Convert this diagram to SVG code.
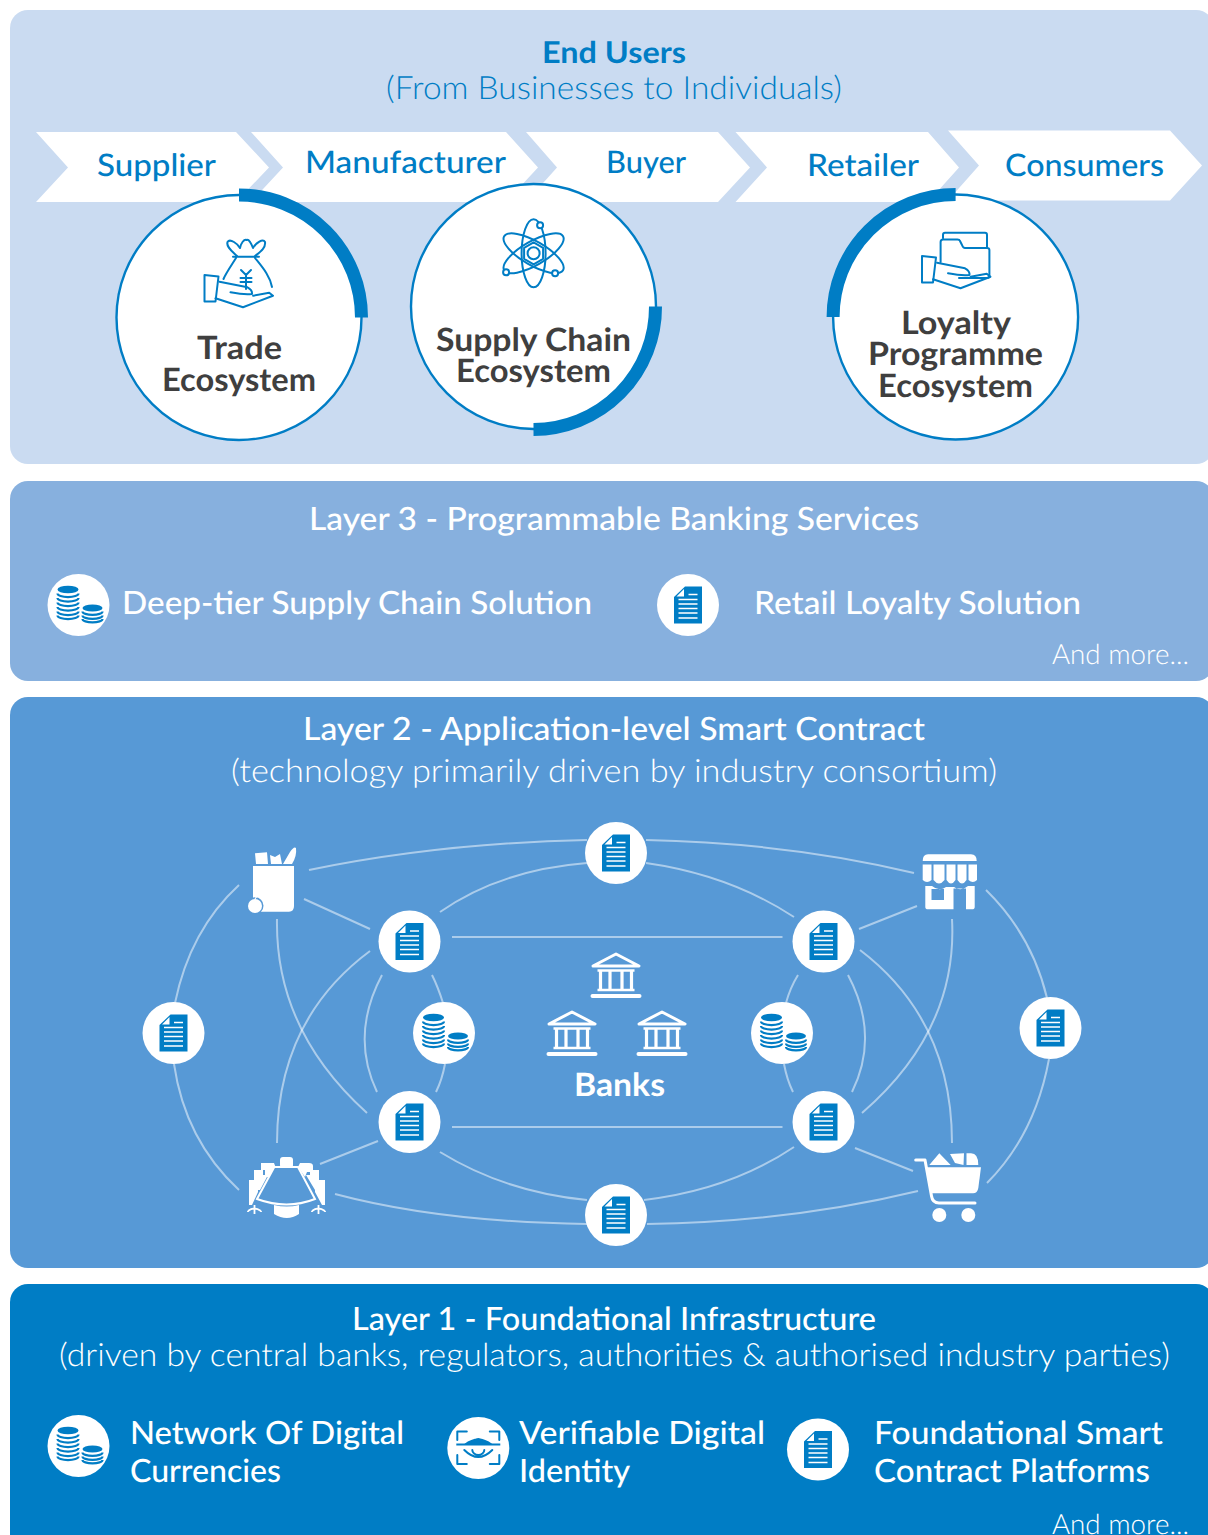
<svg xmlns="http://www.w3.org/2000/svg" xmlns:xlink="http://www.w3.org/1999/xlink" width="1208" height="1535" viewBox="0 0 1208 1535">
<style>
text{font-family:"Lato","Noto Sans","Liberation Sans",sans-serif;text-rendering:geometricPrecision}
.b{fill:#007dc5}.w{fill:#fff}
.chev{font-size:31px;font-weight:500;fill:#007dc5}
.eco{font-size:32px;font-weight:700;fill:#3f3f3f}
.t{font-size:32px;font-weight:500;fill:#fff}
.l{font-size:32px;font-weight:300;fill:#fff}
.more{font-size:28px;font-weight:300;fill:#fff}
.ring{fill:#fff;stroke:#007dc5;stroke-width:2.4}
.arc{fill:none;stroke:#007dc5;stroke-width:13}
.ico{fill:none;stroke:#007dc5;stroke-width:2;stroke-linejoin:round;stroke-linecap:round}
.con{fill:none;stroke:#fff;stroke-opacity:.5;stroke-width:2}
.wl{fill:none;stroke:#fff;stroke-width:2.4}
</style>
<defs>
<g id="doc">
<circle r="31" fill="#fff"/>
<path class="b" d="M-14-8-3-18.500H14V18.500H-14Z"/>
<path d="M-11.500-8.500-4-16V-8.500Z" fill="#fff"/>
<path d="M.5-10.500H9.500M-9.500-5.500H9.500M-9.500-1H9.500M-9.500 3.500H9.500M-9.500 8H9.500M-9.500 13H9.500" stroke="#fff" stroke-width="1.500" fill="none"/>
</g>
<g id="coins">
<circle r="31" fill="#fff"/>
<ellipse class="b" cx="-10.500" cy="-15.500" rx="10.500" ry="3.800"/>
<path d="M-21-11.500a10.500 3.600 0 0 0 21 0M-21-7a10.500 3.600 0 0 0 21 0M-21-2.500a10.500 3.600 0 0 0 21 0M-21 2a10.500 3.600 0 0 0 21 0M-21 6.500a10.500 3.600 0 0 0 21 0M-21 10.500a10.500 3.600 0 0 0 21 0" fill="none" stroke="#007dc5" stroke-width="2.200"/>
<ellipse class="b" cx="14" cy="3" rx="10" ry="3.600"/>
<path d="M4 6.500a10 3.400 0 0 0 20 0M4 10.500a10 3.400 0 0 0 20 0M4 14a10 3.400 0 0 0 20 0" fill="none" stroke="#007dc5" stroke-width="2.200"/>
</g>
<g id="bank">
<path d="M0 2 23 14H-23Z" fill="none" stroke="#fff" stroke-width="3" stroke-linejoin="round"/>
<path d="M-18.500 18.500H18.500M-18.500 38H18.500" stroke="#fff" stroke-width="2.500"/>
<path d="M-15.500 18V38M-6 18V38M6 18V38M15.500 18V38" stroke="#fff" stroke-width="3.200"/>
<rect x="-25.500" y="42" width="51" height="4" rx="2" fill="#fff"/>
</g>
<g id="hand" class="ico">
<path d="M0 0 14 1.500 11 26.500H0Z"/>
<path d="M15 6.700 43 12.300Q48 15 47.500 19Q40 20 26 17.300M48.600 20.700 64.700 17.700 68.500 20.700 38.500 32.300 11 23.300"/>
</g>
</defs>

<g id="panels">
<rect x="10" y="10" width="1204" height="454" rx="18" fill="#cadbf1"/>
<rect x="10" y="481" width="1204" height="200" rx="18" fill="#87b0de"/>
<rect x="10" y="697" width="1204" height="571" rx="18" fill="#5799d6"/>
<rect x="10" y="1284" width="1204" height="270" rx="18" fill="#007dc5"/>
</g>

<g id="chevrons" fill="#fff">
<path id="chev-supplier" d="M36 132H236L269 167.500 236 202H36L68 167.500Z"/>
<path id="chev-manufacturer" d="M251 132H506L538 167.500 506 202H251L283 167.500Z"/>
<path id="chev-buyer" d="M526 132H718L750 167.500 718 202H526L557 167.500Z"/>
<path id="chev-retailer" d="M735.500 132H928L959 167.500 928 202H735.500L767 167.500Z"/>
<path id="chev-consumers" d="M948 130.500H1170L1202 165.500 1170 200.500H948L979 165.500Z"/>
</g>

<g id="layer-titles">
<text x="542" y="63" font-size="30" font-weight="700" fill="#007dc5" textLength="144" lengthAdjust="spacingAndGlyphs">End Users</text>
<text x="386" y="99" font-size="32" font-weight="300" fill="#007dc5" textLength="456" lengthAdjust="spacingAndGlyphs">(From Businesses to Individuals)</text>
<text class="chev" x="97" y="176" textLength="119" lengthAdjust="spacingAndGlyphs">Supplier</text>
<text class="chev" x="305" y="173" textLength="201" lengthAdjust="spacingAndGlyphs">Manufacturer</text>
<text class="chev" x="606" y="173" textLength="80" lengthAdjust="spacingAndGlyphs">Buyer</text>
<text class="chev" x="807" y="176" textLength="112" lengthAdjust="spacingAndGlyphs">Retailer</text>
<text class="chev" x="1005" y="176" textLength="159" lengthAdjust="spacingAndGlyphs">Consumers</text>
<text class="t" x="309" y="530" textLength="610" lengthAdjust="spacingAndGlyphs">Layer 3 - Programmable Banking Services</text>
<text class="t" x="122" y="614" textLength="470" lengthAdjust="spacingAndGlyphs">Deep-tier Supply Chain Solution</text>
<text class="t" x="754" y="614" textLength="327" lengthAdjust="spacingAndGlyphs">Retail Loyalty Solution</text>
<text class="more" x="1052" y="664" textLength="137" lengthAdjust="spacingAndGlyphs">And more...</text>
<text class="t" x="303" y="740" textLength="622" lengthAdjust="spacingAndGlyphs">Layer 2 - Application-level Smart Contract</text>
<text class="l" x="231" y="782" textLength="766" lengthAdjust="spacingAndGlyphs">(technology primarily driven by industry consortium)</text>
<text class="t" x="352" y="1330" textLength="524" lengthAdjust="spacingAndGlyphs">Layer 1 - Foundational Infrastructure</text>
<text class="l" x="59" y="1366" textLength="1111" lengthAdjust="spacingAndGlyphs">(driven by central banks, regulators, authorities &amp; authorised industry parties)</text>
<text class="t" x="130" y="1444" textLength="274" lengthAdjust="spacingAndGlyphs">Network Of Digital</text>
<text class="t" x="130" y="1482" textLength="151" lengthAdjust="spacingAndGlyphs">Currencies</text>
<text class="t" x="519" y="1444" textLength="246" lengthAdjust="spacingAndGlyphs">Verifiable Digital</text>
<text class="t" x="519" y="1482" textLength="111" lengthAdjust="spacingAndGlyphs">Identity</text>
<text class="t" x="874" y="1444" textLength="289" lengthAdjust="spacingAndGlyphs">Foundational Smart</text>
<text class="t" x="874" y="1482" textLength="276" lengthAdjust="spacingAndGlyphs">Contract Platforms</text>
<text class="more" x="1052" y="1534" textLength="137" lengthAdjust="spacingAndGlyphs">And more...</text>
</g>

<g id="trade-ecosystem">
<circle class="ring" cx="239" cy="317.500" r="122.500"/>
<path class="arc" d="M239 195A122.500 122.500 0 0 1 361.500 317.500"/>
<path class="ico" d="M233 256.700H259M236 258C231 266 226 273 223.500 279M255 258C263 268 270 276 272 287M237 256C232 251 226 247 227.500 242 230 238 238 244 240 248 241 243 244 239 246.500 240 249 239 251 243 253 248 256 243 263 238 265 242 266 248 260 252 255 256"/>
<path class="ico" d="M241 270 246 275 251 270M246 275V289M240.500 278H251.500M240.500 282H251.500"/>
<use xlink:href="#hand" href="#hand" transform="translate(204.500 275)"/>
<text class="eco" x="197" y="359" textLength="85" lengthAdjust="spacingAndGlyphs">Trade</text>
<text class="eco" x="162" y="391" textLength="154" lengthAdjust="spacingAndGlyphs">Ecosystem</text>
</g>

<g id="supply-chain-ecosystem">
<circle class="ring" cx="533.500" cy="306.500" r="122.500"/>
<path class="arc" d="M655.500 306.500A122.500 122.500 0 0 1 533.500 429.500"/>
<g class="ico" transform="translate(533.600 253.300)">
<ellipse rx="12" ry="34"/>
<ellipse rx="12" ry="34" transform="rotate(60)"/>
<ellipse rx="12" ry="34" transform="rotate(120)"/>
<circle r="6"/>
<path d="M0-11 9.500-5.500V5.500L0 11-9.500 5.500V-5.500Z"/>
<circle cx="6.500" cy="-28" r="3" fill="#fff"/>
<circle cx="-27.500" cy="19" r="3" fill="#fff"/>
<circle cx="21.500" cy="20" r="3" fill="#fff"/>
</g>
<text class="eco" x="436" y="351" textLength="195" lengthAdjust="spacingAndGlyphs">Supply Chain</text>
<text class="eco" x="456" y="382" textLength="155" lengthAdjust="spacingAndGlyphs">Ecosystem</text>
</g>

<g id="loyalty-programme-ecosystem">
<circle class="ring" cx="955.600" cy="317" r="122.500"/>
<path class="arc" d="M833.100 317A122.500 122.500 0 0 1 955.600 194.500"/>
<path class="ico" d="M943 238V235Q943 232.700 945 232.700H985Q987 232.700 987 235V247M959 278H987Q989.400 278 989.400 276V250Q989.400 248 987 248H965Q963 248 962 245L960 241Q959.500 239.500 957.500 239.500H943Q940.600 239.500 940.600 242V262"/>
<use xlink:href="#hand" href="#hand" transform="translate(922 256)"/>
<text class="eco" x="901" y="334" textLength="110" lengthAdjust="spacingAndGlyphs">Loyalty</text>
<text class="eco" x="868" y="365" textLength="175" lengthAdjust="spacingAndGlyphs">Programme</text>
<text class="eco" x="878" y="397" textLength="155" lengthAdjust="spacingAndGlyphs">Ecosystem</text>
</g>

<g id="connectors" class="con">
<path d="M309 870Q440 843 587 840"/>
<path d="M440 912Q500 870 587 863"/>
<path d="M452 937H782.500"/>
<path d="M304 899 370 929"/>
<path d="M239 885Q190 930 175 1003"/>
<path d="M174 1064Q185 1140 239 1190"/>
<path d="M277 919Q275 1030 367 1113"/>
<path d="M370 951Q277 1020 277 1143"/>
<path d="M382 975Q350 1035 377 1092"/>
<path d="M432 975Q438 987 443 1003"/>
<path d="M445 1064Q442 1080 436 1092"/>
<path d="M452 1127H782.500"/>
<path d="M440 1152Q505 1192 587 1200"/>
<path d="M378 1141 320 1164"/>
<path d="M335 1194Q440 1222 587 1224"/>
<path d="M646 840Q790 843 914 873"/>
<path d="M646 863Q730 875 794 917"/>
<path d="M859 929 917 906"/>
<path d="M986 890Q1032 935 1047 998"/>
<path d="M1049 1059Q1035 1135 987 1183"/>
<path d="M952 919Q958 1030 862 1113"/>
<path d="M860 950Q952 1020 952 1143"/>
<path d="M848 975Q880 1035 852 1092"/>
<path d="M798 975Q790 988 786 1003"/>
<path d="M784 1064Q787 1080 793 1092"/>
<path d="M855 1148 913 1171"/>
<path d="M794 1147Q730 1190 644 1200"/>
<path d="M647 1224Q790 1222 918 1191"/>
</g>

<g id="nodes">
<use id="doc-top" href="#doc" xlink:href="#doc" transform="translate(616 853)"/>
<use id="doc-bottom" href="#doc" xlink:href="#doc" transform="translate(616 1215)"/>
<use id="doc-left" href="#doc" xlink:href="#doc" transform="translate(173.500 1033)"/>
<use id="doc-right" href="#doc" xlink:href="#doc" transform="translate(1050.500 1028)"/>
<use id="doc-ul" href="#doc" xlink:href="#doc" transform="translate(409.500 941.500)"/>
<use id="doc-ur" href="#doc" xlink:href="#doc" transform="translate(823.500 941.500)"/>
<use id="doc-ll" href="#doc" xlink:href="#doc" transform="translate(409.500 1122)"/>
<use id="doc-lr" href="#doc" xlink:href="#doc" transform="translate(823.500 1122)"/>
<use id="coins-left" href="#coins" xlink:href="#coins" transform="translate(444 1033)"/>
<use id="coins-right" href="#coins" xlink:href="#coins" transform="translate(782 1033)"/>
<use id="coins-l3" href="#coins" xlink:href="#coins" transform="translate(78.500 605)"/>
<use id="doc-l3" href="#doc" xlink:href="#doc" transform="translate(688 605)"/>
<use id="coins-l1" href="#coins" xlink:href="#coins" transform="translate(78.500 1446)"/>
<use id="doc-l1" href="#doc" xlink:href="#doc" transform="translate(818 1449.500)"/>

<g id="identity" transform="translate(478.300 1448)">
<circle r="31" fill="#fff"/>
<path class="ico" d="M-21-8V-16.500H-11.500M11.500-16.500H21V-8M-21 7V16H-11.500M11.500 16H21V7"/>
<path d="M-22-3.500H22" stroke="#007dc5" stroke-width="2"/>
<path class="b" d="M-14-4Q0-15 14-4ZM-6-4A6 6 0 0 1 6-4Z"/>
<path class="ico" d="M-14 2Q0 16 14 2M-6 2A6 5 0 0 0 6 2"/>
</g>

<g id="banks">
<use href="#bank" xlink:href="#bank" transform="translate(616 952)"/>
<use href="#bank" xlink:href="#bank" transform="translate(572 1010)"/>
<use href="#bank" xlink:href="#bank" transform="translate(662 1010)"/>
<text x="574" y="1096" font-size="32" font-weight="700" fill="#fff" textLength="91" lengthAdjust="spacingAndGlyphs">Banks</text>
</g>

<g id="grocery" class="w">
<path d="M253 866H294V906Q294 911.700 289 911.700H253Z"/>
<path d="M255 853.300 267 852.300 268 864H256ZM270 855 275 857 280 854 282 864H271ZM283 864 290 852Q294 846 296 848 297 856 292 864Z"/>
<circle cx="255" cy="905.700" r="8.500" fill="#5799d6"/>
<circle cx="255" cy="906" r="7"/>
<path d="M255 899 257 896" stroke="#fff" stroke-width="1.200"/>
</g>

<g id="shop" class="w">
<path d="M928 854.300H971Q976.700 854.300 976.700 861H922.700Q922.700 854.300 928 854.300Z"/>
<path d="M922.700 864.500H931.500V880Q927 884 922.700 880ZM933.500 864.500H944.500V880Q939 887 933.500 880ZM946.500 864.500H955.500V880Q951 887 946.500 880ZM957.500 864.500H966.500V880Q962 887 957.500 880ZM968.500 864.500H977V880Q973 884 968.500 880Z"/>
<path fill-rule="evenodd" d="M925.300 886H932Q939 892 946 887H954Q961 892 968 886H974.700V907Q974.700 909.300 972 909.300H966V888.500H953.500V909.300H928Q925.300 909.300 925.300 907ZM931.500 889V900H944V889Z"/>
</g>

<g id="meeting" class="w">
<rect x="280" y="1157" width="13" height="11" rx="3"/>
<path d="M261 1163Q261 1163 265 1163H274L275.500 1167 269 1177H265V1170H261ZM300 1163H309Q313 1163 313 1166V1172H307L305 1177 298 1167Z"/>
<path d="M254 1170H263V1175H268L260 1190H254ZM310 1170H319V1190H315L306 1175H310Z"/>
<path d="M249 1180H258V1192L252 1205H249ZM315 1180H325V1205H322L315 1192Z"/>
<path d="M274.300 1167H298L315 1199Q287 1210 257 1199Z" fill="#5799d6" stroke="#fff" stroke-width="2"/>
<path d="M274 1205Q287 1208 299 1205V1214Q287 1222 274 1214Z"/>
<path d="M254.500 1205V1214M248 1211Q254 1206 261 1211M248 1211V1212M261 1211V1212M318.500 1205V1214M312 1211Q318 1206 325 1211M312 1211V1212M325 1211V1212" fill="none" stroke="#fff" stroke-width="1.800"/>
</g>

<g id="cart" class="w">
<path d="M915.700 1160H925L931.500 1196Q932.500 1203 939 1203H975" fill="none" stroke="#fff" stroke-width="3" stroke-linejoin="round" stroke-linecap="round"/>
<path d="M926 1167.300H981L978.300 1188Q977.500 1193.300 973 1193.300H931Z"/>
<circle cx="939.300" cy="1215" r="7"/>
<circle cx="968.300" cy="1215" r="7"/>
<path d="M929.300 1165 939.300 1153.300 950.700 1165ZM950 1154 964 1153.300 963.500 1165 955 1163ZM966.500 1153.300H971Q978.300 1153.300 978.300 1165H966.500Z"/>
</g>
</g>
</svg>
